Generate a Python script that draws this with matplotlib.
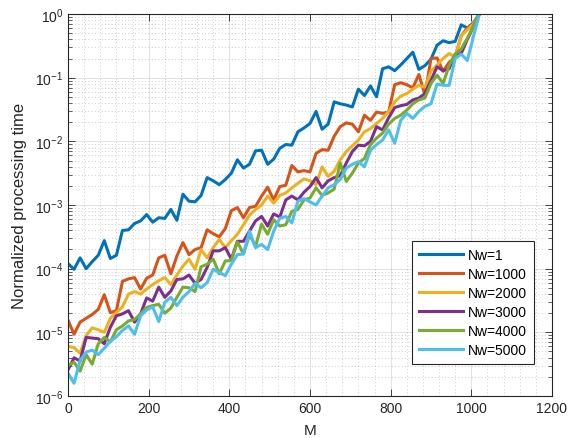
import numpy as np
import matplotlib
matplotlib.use("Agg")
import matplotlib.pyplot as plt
from matplotlib.ticker import MultipleLocator, LogLocator, NullFormatter

plt.rcParams['font.family'] = ['Liberation Sans', 'DejaVu Sans']
plt.rcParams['mathtext.fontset'] = 'custom'
plt.rcParams['mathtext.rm'] = 'Liberation Sans'
plt.rcParams['mathtext.it'] = 'Liberation Sans:italic'

# M values (x axis)
M = np.arange(0, 1021, 15)

# log10 of normalized processing time
log_nw1 = [-3.92, -4.01, -3.83, -4.00, -3.89, -3.79, -3.56, -3.84, -3.79, -3.40,
           -3.39, -3.29, -3.25, -3.15, -3.27, -3.20, -3.21, -3.07, -3.24, -2.83,
           -2.94, -2.95, -2.85, -2.57, -2.62, -2.68, -2.60, -2.50, -2.29, -2.42,
           -2.36, -2.15, -2.14, -2.36, -2.28, -2.11, -2.05, -2.06, -1.85, -1.79,
           -1.72, -1.53, -1.81, -1.73, -1.38, -1.41, -1.43, -1.46, -1.18, -1.28,
           -1.13, -1.30, -0.86, -0.83, -0.89, -0.80, -0.70, -0.60, -0.87, -0.81,
           -0.71, -0.49, -0.42, -0.45, -0.43, -0.17, -0.22, -0.14, 0.0]
log_nw1000 = [-4.81, -5.03, -4.84, -4.78, -4.72, -4.64, -4.41, -4.69, -4.66, -4.20,
              -4.16, -4.14, -4.32, -4.15, -4.10, -3.83, -3.79, -4.08, -3.80, -3.59,
              -3.78, -3.70, -3.67, -3.39, -3.45, -3.50, -3.37, -3.09, -3.04, -3.20,
              -3.04, -3.02, -2.86, -2.72, -2.92, -2.71, -2.69, -2.38, -2.48, -2.46,
              -2.48, -2.19, -2.13, -2.14, -1.92, -1.77, -1.71, -1.73, -1.85, -1.59,
              -1.67, -1.54, -1.56, -1.54, -1.11, -1.08, -1.11, -1.16, -0.95, -1.27,
              -0.70, -0.69, -0.90, -0.76, -0.68, -0.34, -0.22, -0.16, 0.0]
log_nw2000 = [-5.22, -5.24, -5.33, -5.05, -4.93, -4.96, -5.00, -4.78, -4.69, -4.60,
              -4.40, -4.36, -4.40, -4.32, -4.25, -4.19, -4.14, -4.25, -4.10, -3.96,
              -3.85, -4.01, -3.70, -3.83, -3.67, -3.54, -3.67, -3.56, -3.46, -3.31,
              -3.16, -3.07, -3.00, -2.86, -2.97, -2.85, -2.81, -2.73, -2.66, -2.59,
              -2.62, -2.68, -2.40, -2.55, -2.47, -2.29, -2.16, -2.07, -1.98, -1.85,
              -1.80, -1.72, -1.64, -1.53, -1.38, -1.29, -1.25, -1.18, -1.12, -1.15,
              -0.90, -0.80, -0.70, -0.62, -0.68, -0.34, -0.25, -0.16, 0.0]
log_nw3000 = [-5.59, -5.40, -5.45, -5.08, -5.09, -5.10, -5.18, -4.92, -4.74, -4.71,
              -4.66, -4.84, -4.71, -4.46, -4.51, -4.29, -4.45, -4.35, -4.17, -4.16,
              -4.10, -4.23, -4.17, -3.98, -3.72, -3.72, -3.67, -3.85, -3.57, -3.57,
              -3.41, -3.25, -3.18, -3.33, -3.14, -3.19, -2.92, -2.86, -2.92, -2.80,
              -2.71, -2.57, -2.73, -2.62, -2.57, -2.54, -2.34, -2.16, -2.06, -2.07,
              -2.00, -1.77, -1.82, -1.63, -1.47, -1.44, -1.42, -1.35, -1.32, -1.25,
              -1.04, -0.83, -0.89, -0.86, -0.63, -0.62, -0.40, -0.20, 0.0]
log_nw4000 = [-5.52, -5.47, -5.61, -5.35, -5.50, -5.18, -5.08, -5.15, -4.96, -4.90,
              -4.82, -4.80, -4.71, -4.61, -4.58, -4.56, -4.70, -4.62, -4.45, -4.29,
              -4.30, -4.36, -3.97, -3.93, -3.85, -4.08, -3.88, -3.87, -3.58, -3.77,
              -3.47, -3.65, -3.30, -3.46, -3.23, -3.33, -3.31, -3.10, -3.07, -2.92,
              -2.89, -2.73, -2.85, -2.81, -2.75, -2.34, -2.63, -2.50, -2.34, -2.27,
              -2.05, -1.95, -1.87, -1.73, -1.64, -1.59, -1.51, -1.41, -1.35, -1.32,
              -1.09, -0.96, -1.09, -0.81, -0.63, -0.55, -0.38, -0.20, 0.0]
log_nw5000 = [-5.64, -5.80, -5.44, -5.31, -5.28, -5.35, -5.25, -5.14, -5.07, -4.97,
              -4.90, -5.03, -4.74, -4.65, -4.60, -4.83, -4.53, -4.45, -4.58, -4.45,
              -4.36, -4.23, -4.30, -4.22, -4.01, -4.06, -4.11, -3.93, -3.78, -3.77,
              -3.41, -3.67, -3.62, -3.70, -3.41, -3.21, -3.18, -3.28, -2.94, -2.90,
              -2.95, -3.00, -2.86, -2.73, -2.68, -2.60, -2.42, -2.36, -2.32, -2.40,
              -2.14, -2.05, -1.98, -1.82, -2.03, -1.67, -1.56, -1.64, -1.53, -1.45,
              -1.41, -1.10, -1.12, -1.12, -0.70, -0.63, -0.73, -0.36, 0.0]

labels = ['Nw=1', 'Nw=1000', 'Nw=2000', 'Nw=3000', 'Nw=4000', 'Nw=5000']
series = [log_nw1, log_nw1000, log_nw2000, log_nw3000, log_nw4000, log_nw5000]
colors = ['#0072BD', '#D95319', '#EDB120', '#7E2F8E', '#77AC30', '#4DBEEE']

fig = plt.figure(figsize=(5.69, 4.39), dpi=100)
ax = fig.add_axes([0.1195, 0.0957, 0.8506, 0.8701])

for s, lab, c in zip(series, labels, colors):
    ax.plot(M, 10.0 ** np.array(s), color=c, lw=2.2, label=lab)

ax.set_yscale('log')
ax.set_xlim(0, 1200)
ax.set_ylim(1e-6, 1e0)
ax.set_xticks(np.arange(0, 1201, 200))
ax.xaxis.set_minor_locator(MultipleLocator(40))
ax.yaxis.set_major_locator(LogLocator(base=10, numticks=10))
ax.yaxis.set_minor_locator(LogLocator(base=10, subs=np.arange(2, 10), numticks=20))
ax.yaxis.set_minor_formatter(NullFormatter())

ax.tick_params(which='both', direction='in', top=True, right=True,
               labelsize=10, colors='#262626')
ax.tick_params(which='major', length=5, width=0.6)
ax.tick_params(which='minor', length=3, width=0.5)
ax.tick_params(axis='x', which='minor', length=0)
for sp in ax.spines.values():
    sp.set_color('#262626')
    sp.set_linewidth(0.8)

ax.grid(True, which='major', color='#262626', alpha=0.15, lw=0.6, ls='-')
ax.grid(True, which='minor', color='#262626', alpha=0.3, lw=0.6, ls=(0, (1, 3)))
ax.set_axisbelow(True)

ax.set_xlabel('M', fontsize=11, color='#262626')
ax.set_ylabel('Normalized processing time', fontsize=12, color='#262626')
ax.xaxis.set_label_coords(0.5, -0.072)
ax.yaxis.set_label_coords(-0.085, 0.5)

leg = ax.legend(loc='upper right', bbox_to_anchor=(0.963, 0.4065), fontsize=10,
                fancybox=False, framealpha=1, edgecolor='#262626', borderaxespad=0,
                handlelength=3.2, borderpad=0.5, labelspacing=0.37, handletextpad=0.35)
leg.get_frame().set_linewidth(0.8)

fig.savefig('out.png', dpi=100)
